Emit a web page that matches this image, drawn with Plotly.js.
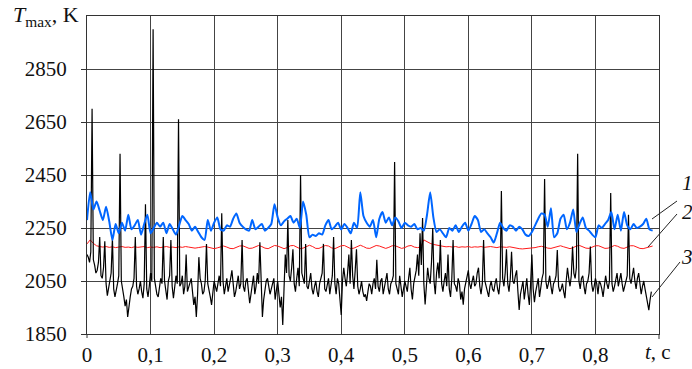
<!DOCTYPE html>
<html>
<head>
<meta charset="utf-8">
<script src="https://cdn.plot.ly/plotly-3.0.1.min.js"></script>
<style>html,body{margin:0;padding:0;background:#fff;}#chart{width:692px;height:369px;}</style>
</head>
<body>
<div id="chart"></div>
<script>
// Curve 1 (blue), sampled every 0.005 s from 0 to 0.89 s
const blueStep = 0.005;
const blueValues = [
2280,2385,2320,2350,2315,2280,2330,2275,2205,2265,2230,2270,2240,2300,2245,2260,2280,2225,2265,2300,
2230,2250,2270,2255,2270,2230,2265,2245,2225,2260,2295,2280,2265,2240,2255,2235,2215,2205,2280,2240,
2270,2290,2245,2240,2260,2255,2285,2305,2270,2255,2245,2240,2280,2245,2255,2265,2240,2250,2265,2340,
2290,2260,2275,2285,2295,2270,2285,2250,2350,2300,2215,2225,2220,2230,2225,2260,2280,2245,2255,2270,
2245,2265,2250,2230,2270,2250,2385,2295,2270,2255,2280,2215,2285,2310,2270,2290,2260,2290,2275,2250,
2270,2260,2255,2265,2245,2250,2240,2300,2385,2290,2235,2245,2230,2215,2250,2240,2260,2235,2255,2270,
2240,2265,2295,2280,2235,2245,2230,2215,2195,2230,2270,2250,2240,2260,2255,2240,2255,2245,2225,2220,
2235,2260,2285,2305,2300,2255,2325,2215,2230,2285,2300,2245,2270,2320,2235,2265,2290,2250,2240,2225,
2215,2260,2250,2265,2280,2310,2245,2300,2240,2310,2260,2245,2265,2250,2255,2265,2285,2245,2240
];
// Curve 2 (red), sampled every 0.005 s
const redStep = 0.005;
const redValues = [
2190,2205,2192,2183,2180,2178,2180,2177,2179,2176,2178,2180,2177,2178,2176,2179,2177,2178,2180,2176,2178,
2177,2179,2176,2178,2180,2177,2178,2176,2179,2177,2180,2178,2176,2174,2176,2178,2180,2178,2174,2172,
2175,2179,2182,2178,2173,2172,2177,2182,2183,2178,2173,2174,2180,2184,2180,2174,2172,2178,2184,2182,
2176,2172,2176,2183,2184,2178,2172,2174,2181,2185,2180,2173,2173,2179,2184,2182,2175,2172,2177,2183,
2184,2178,2172,2174,2181,2185,2180,2174,2173,2179,2184,2182,2176,2173,2177,2183,2183,2177,2173,2176,
2182,2184,2178,2176,2178,2205,2198,2192,2188,2185,2183,2181,2179,2180,2178,2180,2177,2179,2178,2180,
2177,2179,2178,2180,2177,2178,2180,2178,2176,2179,2178,2177,2179,2176,2174,2172,2171,2172,2175,2174,
2176,2179,2181,2178,2174,2173,2176,2181,2183,2179,2174,2172,2176,2182,2184,2180,2174,2173,2177,2183,
2183,2178,2173,2174,2180,2184,2181,2175,2173,2177,2183,2183,2178,2173,2172,2175,2180,2182
];
// Curve 3 (black), sampled every 0.002 s from 0 to 0.888 s
const blackStep = 0.002;
const blackValues = [
2150,2140,2120,2160,2700,2130,2110,2080,2090,2120,2216,2070,2060,2100,2200,2040,1995,2030,2060,2080,2212,2020,1990,2010,2040,2070,2530,2050,2010,1990,1955,1980,1914,1960,1990,2020,2030,2060,2216,2030,2000,2020,2050,2010,1985,2040,2340,2020,1990,2030,
2080,2050,3000,2060,2030,2000,1990,2020,2060,2040,2216,2050,2010,1980,2050,2070,2205,2030,1985,2020,2070,2040,2660,2030,2040,2070,2000,2030,2150,2010,2030,2050,2060,2010,1960,1990,1914,2000,2140,2060,2040,2000,2010,2050,2190,2040,2020,1990,1960,2010,
2050,2030,2010,2040,2070,2030,2306,2050,2000,2030,2060,2010,2030,2060,2090,2040,1990,2010,2050,2070,2020,2040,2205,2030,2010,2050,2060,2010,1966,2000,2040,2070,2000,2030,2080,2040,2196,2020,1914,1980,2020,2050,2060,2030,2000,2020,2040,2060,1980,2010,
2050,2000,1950,1990,1884,2020,2150,2080,2280,2070,2050,2100,2170,2040,2010,2060,2100,2030,2450,2080,2060,2040,2190,2030,2020,2050,2080,2020,2000,2030,2050,2010,1990,2040,2060,2080,2190,2020,2010,2040,2060,2000,2030,2070,2216,2040,2000,2060,2040,1990,
1922,2050,2100,2060,2030,2080,2150,2040,2205,2070,2020,2090,2170,2030,2000,2020,2050,2010,1990,2000,1975,2010,2040,2030,2000,2040,2060,2020,2130,2030,2010,2050,2060,2000,2030,2050,2080,2020,2000,2040,2050,2070,2499,2040,2020,2000,2070,2030,1990,2020,
2050,2030,2010,2060,2100,2020,1980,2040,2060,2090,2150,2070,2230,2110,2288,2040,1961,2030,2100,2060,2040,2120,2250,2050,2000,2080,2120,2060,2205,2040,2010,2050,2080,2030,2150,2020,1990,2060,2205,2040,2030,2010,2060,2040,1980,2010,1961,2020,2040,2060,
2090,2040,2020,2050,2070,2030,2040,2080,2100,2030,2000,2040,2205,2050,2030,2010,1990,2030,2050,2020,2010,2040,2060,2020,2000,2050,2390,2060,2030,2080,2170,2040,2010,2060,2160,2050,2040,2070,2090,2010,1941,2000,2030,2050,1980,2020,2060,2000,1960,2040,
2150,2020,1970,2010,2040,2060,1990,2030,2060,2080,2435,2050,2020,2040,2070,2030,2000,2040,2050,2070,2167,2030,2010,2020,2040,2010,1985,2050,2100,2060,2030,2070,2180,2080,2060,2100,2530,2050,2020,2060,2070,2030,2000,2040,2050,2080,2180,2040,2010,2030,
2060,2040,2000,2050,2040,2020,1990,2030,2070,2040,2020,2050,2382,2040,2010,2030,2060,2080,2030,2060,2080,2040,2010,2030,2050,2070,2300,2060,2040,2080,2100,2050,2020,2060,2080,2040,2000,2030,2050,2020,1990,1970,1940,1980,2010
];
const xTickVals = [0,0.1,0.2,0.3,0.4,0.5,0.6,0.7,0.8];
const xTickText = ["0","0,1","0,2","0,3","0,4","0,5","0,6","0,7","0,8"];
const yTickVals = [1850,2050,2250,2450,2650,2850];
const yTickText = ["1850","2050","2250","2450","2650","2850"];
const curveLabels = ["1","2","3"];

function times(n, step){ const a=[]; for(let i=0;i<n;i++) a.push(+(i*step).toFixed(4)); return a; }

const traces = [
  {x: times(redValues.length, redStep), y: redValues, mode:'lines', line:{color:'#ff1a1a', width:1}, hoverinfo:'skip'},
  {x: times(blackValues.length, blackStep), y: blackValues, mode:'lines', line:{color:'#000000', width:1.2}, hoverinfo:'skip'},
  {x: times(blueValues.length, blueStep), y: blueValues, mode:'lines', line:{color:'#0066ff', width:2, shape:'spline', smoothing:0.6}, hoverinfo:'skip'}
];

const serif = "Times New Roman, Liberation Serif, DejaVu Serif, serif";
const L=87, R=659, T=16, B=334;
const px = v => (v-L)/(R-L);
const py = v => (B-v)/(B-T);

const layout = {
  width:692, height:369,
  margin:{l:87, r:33, t:16, b:35},
  paper_bgcolor:'#fff', plot_bgcolor:'#fff',
  showlegend:false,
  font:{family:serif, size:21, color:'#111'},
  xaxis:{range:[0,0.9], tickvals:xTickVals, ticktext:xTickText, showgrid:true, gridcolor:'#444', gridwidth:1,
         showline:true, linecolor:'#333', linewidth:1, mirror:true, ticks:'', zeroline:false,
         tickfont:{family:serif, size:21, color:'#111'}, ticklabelstandoff:2},
  yaxis:{range:[1850,3050], tickvals:yTickVals, ticktext:yTickText, showgrid:true, gridcolor:'#444', gridwidth:1,
         showline:true, linecolor:'#333', linewidth:1, mirror:true, ticks:'outside', ticklen:5, tickcolor:'#333', zeroline:false,
         tickfont:{family:serif, size:21, color:'#111'}, ticklabelstandoff:10},
  annotations:[
    {xref:'paper', yref:'paper', x:px(81), y:py(16), xanchor:'right', yanchor:'middle', showarrow:false,
     text:'<i>T</i><sub>max</sub>, K', font:{family:serif, size:22, color:'#111'}},
    {xref:'paper', yref:'paper', x:px(658), y:py(352), xanchor:'center', yanchor:'middle', showarrow:false,
     text:'<i>t</i>, c', font:{family:serif, size:21, color:'#111'}},
    {xref:'paper', yref:'paper', x:px(687), y:py(183), xanchor:'center', yanchor:'middle', showarrow:false,
     text:'<i>'+curveLabels[0]+'</i>', font:{family:serif, size:21, color:'#111'}},
    {xref:'paper', yref:'paper', x:px(687), y:py(212), xanchor:'center', yanchor:'middle', showarrow:false,
     text:'<i>'+curveLabels[1]+'</i>', font:{family:serif, size:21, color:'#111'}},
    {xref:'paper', yref:'paper', x:px(687), y:py(257), xanchor:'center', yanchor:'middle', showarrow:false,
     text:'<i>'+curveLabels[2]+'</i>', font:{family:serif, size:21, color:'#111'}}
  ],
  shapes:[
    {type:'line', xref:'paper', yref:'paper', x0:px(677), y0:py(201), x1:px(652), y1:py(219), line:{color:'#222', width:1}},
    {type:'line', xref:'paper', yref:'paper', x0:px(677), y0:py(214), x1:px(648), y1:py(247), line:{color:'#222', width:1}},
    {type:'line', xref:'paper', yref:'paper', x0:px(680), y0:py(262), x1:px(652), y1:py(297), line:{color:'#222', width:1}},
    {type:'line', xref:'paper', yref:'paper', x0:px(659), y0:py(334), x1:px(659), y1:py(339), line:{color:'#333', width:1}},
    {type:'line', xref:'paper', yref:'paper', x0:px(87), y0:py(334), x1:px(87), y1:py(338), line:{color:'#333', width:1}}
  ]
};

Plotly.newPlot('chart', traces, layout, {displayModeBar:false, staticPlot:true});
</script>
</body>
</html>
